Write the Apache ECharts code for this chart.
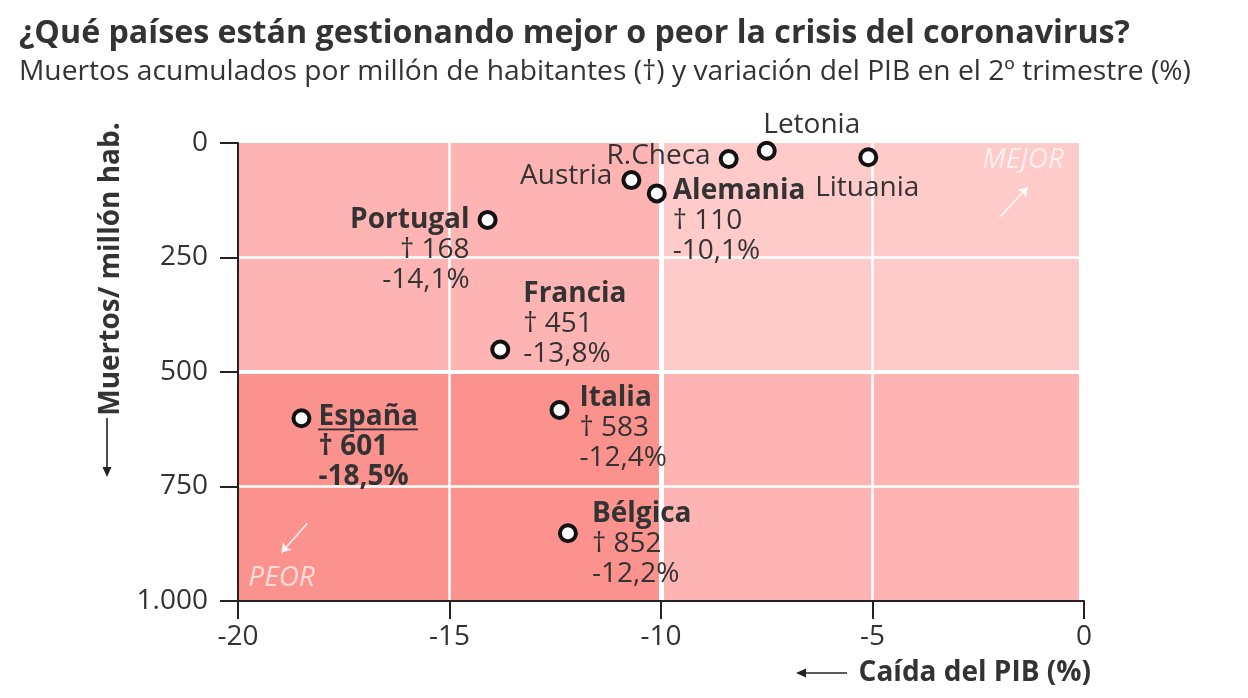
<!DOCTYPE html>
<html><head><meta charset="utf-8">
<script src="https://cdn.jsdelivr.net/npm/echarts/dist/echarts.min.js"></script>
<style>html,body{margin:0;padding:0;background:#fff}#c{width:1248px;height:698px}</style>
</head><body><div id="c"></div>
<script>
// ---- data ----
const paises   = ['Letonia','R.Checa','Lituania','Austria','Alemania','Portugal','Francia','Italia','España','Bélgica'];
const caidaPIB = [-7.5, -8.4, -5.1, -10.7, -10.1, -14.1, -13.8, -12.4, -18.5, -12.2];
const muertos  = [17, 35, 31, 81, 110, 168, 451, 583, 601, 852];
const conDetalle = ['Alemania','Portugal','Francia','Italia','España','Bélgica'];
const destacado = 'España';
const xMin = -20, xMax = 0, xStep = 5;
const yMin = 0, yMax = 1000, yStep = 250;
const notas  = ['MEJOR', 'PEOR'];
const notasX = [-1.44, -18.97];
const notasY = [37, 950];
const flechaDesde = [[-1.99, 161], [-18.36, 830]];
const flechaHasta = [[-1.33, 97], [-18.97, 894]];
// quadrants: [x0, x1, y0, y1]
const cuadrantes = [[-20, -10, 0, 500], [-10, -0.12, 0, 500], [-20, -10, 500, 1000], [-10, -0.12, 500, 1000]];
const coloresCuadrante = ['#fdb4b2', '#fecbca', '#fb928d', '#fdb4b2'];
const lineasV = [-15, -10, -5];
const lineasH = [250, 500, 750];

// ---- styles ----
const FONT = 'Open Sans';
const TXT = '#333';
const etiquetas = {
  'Letonia':  {position: 'top',    d: [45, 4]},
  'R.Checa':  {position: 'left',   d: [-3, -3]},
  'Lituania': {position: 'bottom', d: [-1, 1]},
  'Austria':  {position: 'left',   d: [-4, -4]},
  'Alemania': {position: 'right',  d: [1, 28]},
  'Portugal': {position: 'left',   d: [-3, 30]},
  'Francia':  {position: 'right',  d: [8, -26]},
  'Italia':   {position: 'right',  d: [5, 18]},
  'España':   {position: 'right',  d: [2, 29]},
  'Bélgica':  {position: 'right',  d: [9, 11]}
};

// underline image for highlighted name
const ul = document.createElement('canvas');
ul.width = 4; ul.height = 30;
const uctx = ul.getContext('2d');
uctx.fillStyle = TXT; uctx.fillRect(0, 27, 4, 2);

const fmt = v => v.toFixed(1).replace('.', ',');
const fmtMil = v => String(v).replace(/\B(?=(\d{3})+(?!\d))/g, '.');

const puntos = paises.map((p, i) => {
  const lay = etiquetas[p];
  let formatter;
  if (p === destacado) {
    formatter = `{u|${p}}\n{b|† ${muertos[i]}}\n{b|${fmt(caidaPIB[i])}%}`;
  } else if (conDetalle.includes(p)) {
    formatter = `{n|${p}}\n{v|† ${muertos[i]}}\n{v|${fmt(caidaPIB[i])}%}`;
  } else {
    formatter = `{v|${p}}`;
  }
  return {
    name: p,
    value: [caidaPIB[i], muertos[i]],
    label: {show: true, position: lay.position, distance: 5, formatter}
  };
});

const rich = {
  n: {fontFamily: FONT, fontSize: 28, fontWeight: 'bold', color: TXT, lineHeight: 30},
  v: {fontFamily: FONT, fontSize: 28, color: TXT, lineHeight: 30},
  b: {fontFamily: FONT, fontSize: 28, fontWeight: 'bold', color: TXT, lineHeight: 30},
  u: {fontFamily: FONT, fontSize: 28, fontWeight: 'bold', color: TXT, lineHeight: 30,
      backgroundColor: {image: ul}}
};

const AX = '#222';
const chart = echarts.init(document.getElementById('c'));
chart.setOption({
  backgroundColor: '#fff',
  animation: false,
  title: [
    {text: '¿Qué países están gestionando mejor o peor la crisis del coronavirus?', left: 14, top: 13,
     textStyle: {fontFamily: FONT, fontSize: 32.2, fontWeight: 'bold', color: TXT}},
    {text: 'Muertos acumulados por millón de habitantes (†) y variación del PIB en el 2º trimestre (%)', left: 14, top: 53,
     textStyle: {fontFamily: FONT, fontSize: 28.2, fontWeight: 'normal', color: TXT}}
  ],
  grid: {left: 238, right: 164, top: 143, bottom: 97, outerBoundsMode: 'none', containLabel: false},
  xAxis: {
    type: 'value', min: xMin, max: xMax, interval: xStep, z: 10,
    axisLine: {show: true, onZero: false, lineStyle: {color: AX, width: 2}},
    axisTick: {show: true, length: 18, lineStyle: {color: AX, width: 2}},
    axisLabel: {margin: 22, fontFamily: FONT, fontSize: 28, color: TXT},
    splitLine: {show: false}
  },
  yAxis: {
    type: 'value', inverse: true, min: yMin, max: yMax, interval: yStep, z: 10,
    axisLine: {show: true, onZero: false, lineStyle: {color: AX, width: 2}},
    axisTick: {show: true, length: 18, lineStyle: {color: AX, width: 2}},
    axisLabel: {margin: 30, fontFamily: FONT, fontSize: 28, color: TXT, formatter: fmtMil},
    splitLine: {show: false}
  },
  graphic: [
    {type: 'text', x: 111, y: 269, rotation: Math.PI / 2,
     style: {text: 'Muertos/ millón hab.', align: 'center', verticalAlign: 'middle',
       fontFamily: FONT, fontSize: 28, fontWeight: 'bold', fill: TXT}},
    {type: 'line', shape: {x1: 107, y1: 418, x2: 107, y2: 469}, style: {stroke: AX, lineWidth: 1.6}},
    {type: 'polygon', shape: {points: [[107, 477], [102.5, 467], [111.5, 467]]}, style: {fill: AX}},
    {type: 'text', x: 1091, y: 673,
     style: {text: 'Caída del PIB (%)', align: 'right', verticalAlign: 'middle',
       fontFamily: FONT, fontSize: 28, fontWeight: 'bold', fill: TXT}},
    {type: 'line', shape: {x1: 804, y1: 673, x2: 847, y2: 673}, style: {stroke: AX, lineWidth: 1.6}},
    {type: 'polygon', shape: {points: [[796, 673], [806, 668.5], [806, 677.5]]}, style: {fill: AX}}
  ],
  series: [
    {
      type: 'scatter', name: 'fondo', data: [], z: 1, silent: true,
      markArea: {
        silent: true,
        data: cuadrantes.map((q, i) => [
          {xAxis: q[0], yAxis: q[2], itemStyle: {color: coloresCuadrante[i], opacity: 1}},
          {xAxis: q[1], yAxis: q[3]}
        ])
      }
    },
    {
      type: 'scatter', name: 'lineas', data: [], z: 2, silent: true,
      markLine: {
        silent: true, symbol: 'none', label: {show: false},
        data: [
          ...lineasV.map(v => ({xAxis: v, lineStyle: {color: '#fff', width: v === -10 ? 5 : 2.5, type: 'solid'}})),
          ...lineasH.map(v => ({yAxis: v, lineStyle: {color: '#fff', width: v === 500 ? 4 : 2.5, type: 'solid'}}))
        ]
      }
    },
    {
      type: 'lines', name: 'flechas', coordinateSystem: 'cartesian2d', z: 3, silent: true,
      symbol: ['none', 'arrow'], symbolSize: 9,
      lineStyle: {color: 'rgba(255,255,255,0.9)', width: 1.5, opacity: 1},
      itemStyle: {color: 'rgba(255,255,255,0.9)'},
      data: flechaDesde.map((d, i) => ({coords: [d, flechaHasta[i]]}))
    },
    {
      type: 'scatter', name: 'notas', z: 3, silent: true, symbolSize: 0,
      data: notas.map((t, i) => ({name: t, value: [notasX[i], notasY[i]]})),
      label: {show: true, position: 'inside', formatter: '{b}', fontFamily: FONT, fontSize: 28,
              fontStyle: 'italic', color: 'rgba(255,255,255,0.85)'}
    },
    {
      type: 'scatter', name: 'paises', z: 5,
      symbol: 'circle', symbolSize: 16,
      itemStyle: {color: '#fff', borderColor: '#111', borderWidth: 4, opacity: 1},
      label: {rich},
      labelLayout: params => {
        const e = etiquetas[paises[params.dataIndex]];
        return {dx: e.d[0], dy: e.d[1], hideOverlap: false};
      },
      data: puntos
    }
  ]
});
</script></body></html>
